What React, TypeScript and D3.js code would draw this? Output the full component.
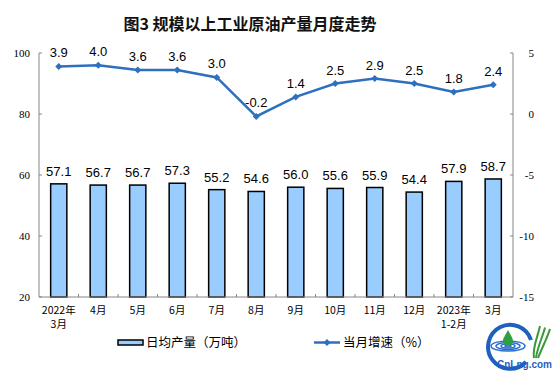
import { scaleBand, scaleLinear, line } from "d3";

// chart data
const categories = [
  ["2022年", "3月"], ["4月"], ["5月"], ["6月"], ["7月"], ["8月"],
  ["9月"], ["10月"], ["11月"], ["12月"], ["2023年", "1-2月"], ["3月"],
];
const dailyOutput = [57.1, 56.7, 56.7, 57.3, 55.2, 54.6, 56.0, 55.6, 55.9, 54.4, 57.9, 58.7];
const growthRate = [3.9, 4.0, 3.6, 3.6, 3.0, -0.2, 1.4, 2.5, 2.9, 2.5, 1.8, 2.4];
const leftTicks = [20, 40, 60, 80, 100];
const rightTicks = [-15, -10, -5, 0, 5];

const W = 554;
const H = 374;
const left = 39;
const right = 513;
const top = 53;
const bottom = 297;

const axisColor = "#868686";
const lineColor = "#2E6FBE";
const cjk = "'Noto Sans CJK SC', sans-serif";
const num = "'Liberation Sans', Arial, sans-serif";
const serif = "'Liberation Serif', 'Times New Roman', serif";

const App = () => {
  const keys = categories.map((c) => c.join(""));
  const x = scaleBand().domain(keys).range([left, right]);
  const yL = scaleLinear().domain([20, 100]).range([bottom, top]);
  const yR = scaleLinear().domain([-15, 5]).range([bottom, top]);
  const bw = x.bandwidth() * 0.41;
  const cx = (i) => x(keys[i]) + x.bandwidth() / 2;

  const path = line()
    .x((d, i) => cx(i))
    .y((d) => yR(d))(growthRate);

  const diamond = (px, py, r) =>
    `M${px},${py - r}L${px + r},${py}L${px},${py + r}L${px - r},${py}Z`;

  return (
    <svg width={W} height={H} style={{ position: "absolute", left: 0, top: 0, background: "#fff" }}>
      <text x={250} y={30} textAnchor="middle" fontFamily={cjk} fontSize={16} fontWeight={600} fill="#111">
        图3 规模以上工业原油产量月度走势
      </text>

      {/* bars */}
      {dailyOutput.map((v, i) => (
        <g key={"b" + i}>
          <rect
            x={cx(i) - bw / 2}
            y={yL(v)}
            width={bw}
            height={bottom - yL(v)}
            fill="#99CCFF"
            stroke="#000"
            strokeWidth={1.5}
          />
          <text x={cx(i)} y={yL(v) - 8} textAnchor="middle" fontFamily={num} fontSize={13} fill="#000">
            {v.toFixed(1)}
          </text>
        </g>
      ))}

      {/* axes */}
      <line x1={left} x2={left} y1={top} y2={bottom} stroke={axisColor} />
      <line x1={right} x2={right} y1={top} y2={bottom} stroke={axisColor} />
      <line x1={left} x2={right} y1={bottom} y2={bottom} stroke={axisColor} />
      {leftTicks.map((t) => (
        <g key={"l" + t}>
          <line x1={left} x2={left + 3} y1={yL(t)} y2={yL(t)} stroke={axisColor} />
          <text x={30} y={yL(t) + 4} textAnchor="end" fontFamily={serif} fontSize={11} fill="#000">
            {t}
          </text>
        </g>
      ))}
      {rightTicks.map((t) => (
        <g key={"r" + t}>
          <line x1={right - 3} x2={right} y1={yR(t)} y2={yR(t)} stroke={axisColor} />
          <text x={534} y={yR(t) + 4} textAnchor="end" fontFamily={serif} fontSize={11} fill="#000">
            {t}
          </text>
        </g>
      ))}
      {keys.slice(1).map((k) => (
        <line key={"t" + k} x1={x(k)} x2={x(k)} y1={bottom} y2={bottom - 3} stroke={axisColor} />
      ))}
      {categories.map((c, i) =>
        c.map((s, j) => (
          <text key={"c" + i + j} x={cx(i)} y={314 + j * 14} textAnchor="middle" fontFamily={cjk} fontSize={10.5} fill="#000">
            {s}
          </text>
        ))
      )}

      {/* line series */}
      <path d={path} fill="none" stroke={lineColor} strokeWidth={2.5} />
      {growthRate.map((v, i) => (
        <g key={"p" + i}>
          <path d={diamond(cx(i), yR(v), 3.5)} fill={lineColor} />
          <text x={cx(i)} y={yR(v) - 9} textAnchor="middle" fontFamily={num} fontSize={13} fill="#000">
            {v.toFixed(1)}
          </text>
        </g>
      ))}

      {/* legend */}
      <rect x={118} y={340} width={25} height={5} fill="#99CCFF" stroke="#000" strokeWidth={1.5} />
      <text x={146} y={347} fontFamily={cjk} fontSize={12.5} fill="#000">日均产量（万吨）</text>
      <line x1={314} x2={340} y1={342.5} y2={342.5} stroke={lineColor} strokeWidth={2.5} />
      <path d={diamond(327, 342.5, 3.5)} fill={lineColor} />
      <text x={343} y={347} fontFamily={cjk} fontSize={12.5} fill="#000">当月增速（%）</text>

      {/* watermark logo */}
      <g>
        <path d="M526,362 A22,22 0 1 1 531,340" fill="none" stroke="#1F5FBF" strokeWidth={4} />
        {[17, 12, 7, 3].map((r) => (
          <ellipse key={"e" + r} cx={508} cy={346} rx={r} ry={r * 0.3} fill="none" stroke="#2A6FD0" strokeWidth={1.5} />
        ))}
        <path d="M508,330 C511,336 513,338 513,341 A5,5 0 0 1 503,341 C503,338 505,336 508,330Z" fill="#2EA043" />
        {[0, 5, 10].map((d) => (
          <path key={"g" + d} d={`M${534 + d * 0.4},358 C${532 + d},348 ${538 + d},336 ${540 + d},${326 + d * 0.3}`} fill="none" stroke="#3A9A3A" strokeWidth={2} />
        ))}
        <text x={497} y={368} fontFamily={num} fontSize={10} fontWeight={700} fill="#1F5FBF">CnLng.com</text>
      </g>
    </svg>
  );
};

export default App;
